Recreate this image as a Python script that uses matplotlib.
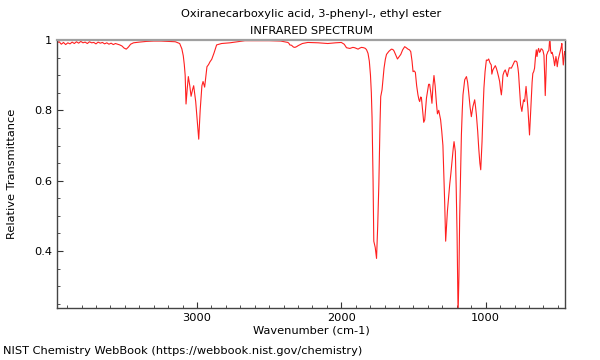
import matplotlib
matplotlib.use('Agg')
import matplotlib.pyplot as plt
import numpy as np
from matplotlib.ticker import MultipleLocator, FuncFormatter

title = 'Oxiranecarboxylic acid, 3-phenyl-, ethyl ester\nINFRARED SPECTRUM'
footer = 'NIST Chemistry WebBook (https://webbook.nist.gov/chemistry)'

# wavenumber (cm-1), high to low
wavenumber = [3970, 3955, 3940, 3925, 3910, 3895, 3880, 3865, 3850, 3835, 3820, 3805,
              3790, 3775, 3760, 3745, 3730, 3715, 3700, 3685, 3670, 3655, 3640, 3625,
              3610, 3595, 3580, 3565, 3550, 3535, 3520, 3505, 3490, 3475, 3460, 3440,
              3400, 3350, 3300, 3250, 3200, 3150, 3120, 3105, 3095, 3088, 3082, 3076,
              3068, 3060, 3050, 3041, 3030, 3023, 3009, 3000, 2988, 2978, 2966, 2958,
              2947, 2938, 2931, 2920, 2910, 2898, 2882, 2864, 2830, 2772, 2720, 2668,
              2600, 2500, 2420, 2385, 2370, 2362, 2357, 2345, 2332, 2322, 2310, 2299,
              2270, 2232, 2160, 2094, 2040, 2000, 1980, 1964, 1941, 1920, 1907, 1895,
              1884, 1872, 1860, 1845, 1833, 1825, 1815, 1806, 1798, 1792, 1787, 1780,
              1775, 1765, 1756, 1748, 1740, 1732, 1727, 1718, 1710, 1704, 1695, 1687,
              1670, 1653, 1643, 1635, 1620, 1611, 1600, 1588, 1575, 1561, 1550, 1538,
              1528, 1519, 1510, 1503, 1495, 1487, 1478, 1469, 1462, 1457, 1450, 1445,
              1437, 1429, 1422, 1410, 1395, 1388, 1380, 1372, 1365, 1358, 1350, 1341,
              1334, 1325, 1312, 1304, 1296, 1290, 1284, 1277, 1271, 1265, 1257, 1249,
              1241, 1233, 1225, 1219, 1210, 1204, 1198, 1191, 1185, 1180, 1174, 1168,
              1162, 1157, 1145, 1133, 1125, 1118, 1108, 1099, 1088, 1076, 1070, 1064,
              1055, 1048, 1040, 1034, 1025, 1018, 1012, 1004, 995, 987, 979, 970,
              961, 957, 950, 943, 933, 926, 919, 910, 903, 897, 891, 885,
              880, 872, 864, 857, 850, 843, 836, 822, 810, 799, 790, 783,
              776, 772, 765, 758, 749, 743, 737, 730, 720, 714, 707, 700,
              696, 690, 684, 678, 673, 667, 661, 655, 649, 644, 638, 633,
              627, 622, 616, 610, 603, 596, 591, 587, 582, 578, 573, 569,
              562, 555, 550, 545, 540, 534, 528, 522, 517, 513, 508, 504,
              497, 490, 485, 481, 476, 472, 467, 462, 457, 453, 450]

transmittance = [0.992, 0.995, 0.988, 0.993, 0.987, 0.992, 0.989, 0.994, 0.990, 0.995, 0.991, 0.996,
                 0.992, 0.994, 0.990, 0.995, 0.992, 0.993, 0.989, 0.994, 0.991, 0.993, 0.989, 0.992,
                 0.988, 0.991, 0.987, 0.990, 0.988, 0.986, 0.983, 0.977, 0.974, 0.980, 0.988, 0.992,
                 0.994, 0.996, 0.997, 0.997, 0.996, 0.995, 0.990, 0.975, 0.955, 0.930, 0.900, 0.818,
                 0.860, 0.896, 0.870, 0.840, 0.860, 0.870, 0.825, 0.780, 0.718, 0.800, 0.870, 0.882,
                 0.866, 0.900, 0.924, 0.930, 0.938, 0.945, 0.963, 0.986, 0.990, 0.992, 0.995, 0.998,
                 0.998, 0.998, 0.997, 0.994, 0.993, 0.990, 0.986, 0.985, 0.980, 0.979, 0.981, 0.984,
                 0.990, 0.993, 0.992, 0.990, 0.992, 0.993, 0.988, 0.978, 0.976, 0.979, 0.978, 0.976,
                 0.974, 0.977, 0.979, 0.978, 0.976, 0.972, 0.962, 0.940, 0.900, 0.850, 0.779, 0.600,
                 0.428, 0.410, 0.379, 0.470, 0.589, 0.760, 0.839, 0.858, 0.895, 0.920, 0.945, 0.959,
                 0.968, 0.974, 0.973, 0.969, 0.955, 0.946, 0.952, 0.959, 0.972, 0.981, 0.978, 0.974,
                 0.972, 0.967, 0.940, 0.910, 0.912, 0.908, 0.870, 0.844, 0.830, 0.825, 0.838, 0.836,
                 0.800, 0.766, 0.773, 0.835, 0.874, 0.874, 0.850, 0.820, 0.870, 0.899, 0.870, 0.820,
                 0.790, 0.800, 0.773, 0.740, 0.700, 0.620, 0.541, 0.428, 0.470, 0.513, 0.550, 0.589,
                 0.620, 0.655, 0.690, 0.711, 0.683, 0.580, 0.447, 0.220, 0.330, 0.495, 0.620, 0.730,
                 0.800, 0.844, 0.887, 0.896, 0.880, 0.853, 0.810, 0.782, 0.811, 0.830, 0.810, 0.787,
                 0.740, 0.693, 0.650, 0.631, 0.711, 0.800, 0.863, 0.910, 0.943, 0.942, 0.946, 0.935,
                 0.929, 0.903, 0.915, 0.920, 0.927, 0.920, 0.910, 0.895, 0.882, 0.860, 0.844, 0.870,
                 0.900, 0.910, 0.915, 0.905, 0.896, 0.910, 0.921, 0.920, 0.930, 0.940, 0.940, 0.937,
                 0.920, 0.905, 0.860, 0.816, 0.797, 0.815, 0.830, 0.825, 0.868, 0.840, 0.806, 0.760,
                 0.730, 0.780, 0.835, 0.880, 0.905, 0.910, 0.920, 0.950, 0.972, 0.953, 0.970, 0.976,
                 0.965, 0.967, 0.975, 0.974, 0.970, 0.957, 0.900, 0.842, 0.900, 0.957, 0.962, 0.967,
                 0.970, 1.010, 0.970, 0.962, 0.965, 0.957, 0.945, 0.927, 0.940, 0.953, 0.940, 0.924,
                 0.945, 0.957, 0.965, 0.972, 0.980, 0.990, 0.960, 0.929, 0.950, 0.967, 0.960]

fs = 8.2

fig = plt.figure(figsize=(6, 3.6), dpi=100)
ax = fig.add_axes([0.095, 0.1444, 0.8467, 0.7445])

ax.plot(wavenumber, transmittance, color='#ff2020', linewidth=0.8)

ax.set_xlim(3970, 450)
ax.set_ylim(0.238, 1.0)

ax.xaxis.set_major_locator(MultipleLocator(1000))
ax.xaxis.set_minor_locator(MultipleLocator(100))
ax.yaxis.set_major_locator(MultipleLocator(0.2))
ax.yaxis.set_minor_locator(MultipleLocator(0.05))
ax.yaxis.set_major_formatter(FuncFormatter(lambda v, p: '%g' % round(v, 2)))

ax.tick_params(which='both', direction='in', top=False, right=False, labelsize=fs, colors='#333333')
ax.tick_params(which='major', length=4)
ax.tick_params(which='minor', length=2.5)
for lbl in ax.get_xticklabels() + ax.get_yticklabels():
    lbl.set_color('black')

ax.spines['top'].set_color('#a0a0a0')
ax.spines['top'].set_linewidth(1.6)
for s in ['left', 'bottom', 'right']:
    ax.spines[s].set_color('#444444')
    ax.spines[s].set_linewidth(1.0)

ax.set_xlabel('Wavenumber (cm-1)', fontsize=fs, labelpad=2)
ax.set_ylabel('Relative Transmittance', fontsize=fs, labelpad=12)
ax.set_title(title, fontsize=fs, pad=4, linespacing=1.9)

fig.text(0.005, 0.012, footer, fontsize=fs, ha='left', va='bottom')

plt.savefig('out.png', dpi=100)
